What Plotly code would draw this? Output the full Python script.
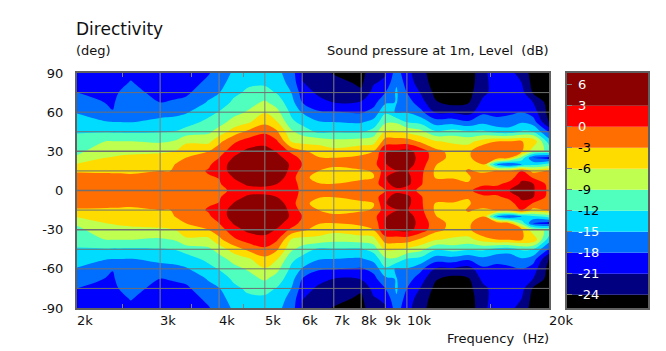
import numpy as np
import plotly.graph_objects as go

# angles (deg) of the rows in each column below
angles = [0, 5, 10, 15, 20, 25, 30, 37.5, 45, 52.5, 60, 67.5, 75, 82.5, 90]
freqs = [2000, 2300, 2380, 2450, 2600, 3000, 3150, 3250, 3400, 3800, 4000, 4300, 4600, 5000, 5300, 5700, 6000, 6500, 7000,
         8000, 8500, 9000, 9500, 10000, 10700, 11500, 12500, 13500, 14500, 15500, 16500, 17500, 18500, 20000]
upper_columns = [
    [-1.2, -1.5, -2, -3.3, -5.7, -8.5, -9.7, -11, -12.2, -13.8, -15.2, -16.6, -18, -19, -20],
    [-1.2, -1.5, -2.2, -3.4, -4.7, -6, -7.2, -8.9, -12.3, -14.9, -16.5, -18.1, -19, -19.5, -20],
    [-1.1, -1.4, -2.3, -3.4, -4.6, -5.8, -7, -8.9, -12.4, -15, -17.8, -18.6, -19, -19.5, -20],
    [-1.1, -1.4, -2.3, -3.4, -4.6, -5.6, -6.8, -8.9, -12.4, -15, -16, -17, -18, -18.8, -19.3],
    [-1, -1.3, -2.4, -3.5, -4.5, -5.4, -6.6, -8.9, -12.5, -15.1, -15.8, -16.4, -17, -17.8, -18.7],
    [-1, -1.3, -2, -3, -4, -5, -6.4, -9.4, -12.2, -14.3, -16, -18, -19, -19.8, -20.3],
    [-1, -1.3, -2, -3, -3.8, -4.9, -6.2, -9, -12, -14.2, -15.8, -17.8, -18.9, -19.7, -20.2],
    [-1, -1.2, -1.7, -2, -2.7, -4.4, -5.8, -8.5, -11.8, -14, -15.7, -17.6, -18.8, -19.6, -20.2],
    [-1, -1.2, -1.5, -1.8, -2.3, -3, -4.4, -6.5, -10.8, -13.4, -15.3, -17.2, -18.6, -19.4, -20],
    [-0.9, -0.7, -0.3, 0.3, -0.5, -1.7, -3, -6.8, -9.6, -11.2, -13, -14.7, -16, -17.3, -18.2],
    [-0.6, -0.3, 0.1, 1.5, 1.5, 0, -1.4, -3.7, -7.8, -10.2, -11.8, -13.7, -15.1, -16, -16.8],
    [0.5, 2, 3.2, 4.2, 4.2, 3.3, 1.8, -0.5, -4.5, -7.9, -10, -11.4, -12.7, -13.8, -14.5],
    [2, 3.4, 4.5, 5.5, 5.6, 5, 3.7, 1.3, -2.4, -6.5, -8.7, -10.2, -11.5, -12.5, -13.5],
    [2.2, 3.5, 5, 6, 6, 5.5, 4.2, 2, -0.5, -3.9, -6.2, -8.5, -11, -12.5, -13],
    [1.5, 3, 4.5, 5, 4.8, 4, 2.8, 0.5, -2.5, -5.8, -8, -10.3, -12.2, -13.5, -14.2],
    [0.2, 0.6, 1.5, 2.2, 2.6, 1.6, -0.8, -6.3, -8.5, -11.3, -12.8, -13.9, -15.1, -16, -16.5],
    [-0.1, -0.5, -2.5, -1.2, 0, -1, -2.4, -7, -10.3, -13, -15.2, -18, -19.2, -20.8, -21.5],
    [-1.7, -2.9, -3.6, -3, -2.5, -2.8, -4.2, -7, -12.6, -14.8, -17.7, -19.8, -21.7, -22.5, -23],
    [-2, -2.9, -5, -3.3, -2.8, -3, -5, -8, -12.3, -15, -17.8, -21, -22, -23, -24.2],
    [-1.5, -2.5, -3.3, -3.2, -2.3, -2.5, -3.8, -7.5, -12.4, -15.3, -18.3, -20.7, -23.5, -24.5, -25],
    [-1, -1.5, -3.1, -2.9, -1, -2, -3, -7.2, -10.7, -14, -17, -19, -20, -21.3, -22],
    [0, 2, 2.8, 1.8, 2.7, 3.2, 2.8, -1.4, -5.7, -9.6, -12.5, -15.5, -18, -20.3, -21.3],
    [2, 4.5, 4.5, 2.8, 5, 5, 3.5, -1.5, -5.7, -9.5, -15.5, -14.9, -14.6, -15.3, -16.5],
    [1, 4, 4, 3.3, 4.5, 5, 4, -1.4, -6.6, -12.2, -15.2, -16.5, -18, -19.3, -20],
    [-0.5, 0.2, 0.5, 0.8, 1.5, 1.8, 1.8, -3.5, -8, -13, -17.2, -19.7, -21.2, -22.5, -23],
    [-1.5, -1.8, -3.2, -3.5, -2.8, -1.5, -2, -5.7, -11.6, -16.5, -21.3, -23.7, -24.8, -25.3, -25.6],
    [-2, -2.5, -3.1, -4, -5.5, -4, -4, -6.5, -10.8, -16.2, -21.5, -25, -25.5, -25.7, -25.8],
    [-0.2, -2.9, -3.2, -2.8, -3.5, -3.6, -3.7, -7, -11.6, -17.5, -22.3, -24.2, -25, -25.5, -25.7],
    [0.5, -0.2, -2, -3.4, -3, -0.7, 0, -4.5, -11.5, -15.8, -18.6, -20.2, -21.7, -22, -22],
    [1.5, -0.6, -2, -2.9, -15, -1, -0.5, -3, -13, -17, -19, -19.5, -19.8, -19.5, -18.8],
    [3, 1, -1.5, -2.5, -18, -3, -0.7, -2.8, -13.5, -16.8, -18.5, -20.5, -19.5, -20, -20.5],
    [3.6, 3.6, 2.3, 0.4, -15, -10, -2.5, -2.9, -11.6, -15.3, -18, -19.2, -20, -21, -21.7],
    [3.4, 3.2, -0.3, -4, -13, -18, -8, -3.5, -12, -16.5, -19.5, -21, -24.3, -25, -25.5],
    [-0.7, -1, -1.7, -2.6, -11, -19.5, -9.5, -13.5, -18.3, -24.3, -25, -25.3, -25.5, -25.6, -25.7],
]

level_bottoms = [-27, -24, -21, -18, -15, -12, -9, -6, -3, 0, 3]
level_tops = [-24, -21, -18, -15, -12, -9, -6, -3, 0, 3, 9]
level_colors = ["#000000", "#000080", "#0000ff", "#006eff", "#00dcff", "#50ffbe",
                "#beff50", "#ffdc00", "#ff6e00", "#ff0000", "#8b0000"]
bar_labels = [6, 3, 0, -3, -6, -9, -12, -15, -18, -21, -24]
bar_label_colors = ["white", "white", "white", "black", "black", "black", "black",
                    "white", "white", "white", "white"]
y_ticks = [-90, -60, -30, 0, 30, 60, 90]
y_tick_text = ["-90", "-60", "-30", "0", "30", "60", "90"]
y_grid = [-75, -60, -45, -30, -15, 0, 15, 30, 45, 60, 75]
x_grid = [3000, 4000, 5000, 6000, 7000, 8000, 9000, 10000]
x_label_vals = [2000, 3000, 4000, 5000, 6000, 7000, 8000, 9000, 10000, 20000]
x_label_text = ["2k", "3k", "4k", "5k", "6k", "7k", "8k", "9k", "10k", "20k"]
x_minor = [2500, 3500, 4500, 15000]

W, H = 658, 343
OFF = 8  # page margin
def px(v):
    return (v - OFF) / W
def py(v):
    return 1 - (v - OFF) / H

FONT = "DejaVu Sans"
GREY = "#808080"
FRAME = "#606060"

upper = np.array(upper_columns).T
full = np.vstack([upper[::-1][:-1], upper])
full_angles = [-a for a in angles[::-1][:-1]] + angles

n = len(level_colors)
scale = []
for i, c in enumerate(level_colors):
    scale += [[i / n, c], [(i + 1) / n, c]]

fig = go.Figure()
fig.add_trace(go.Contour(
    x=freqs, y=full_angles, z=full, colorscale=scale, zmin=-27, zmax=6,
    autocontour=False, contours=dict(start=-24, end=3, size=3, coloring="fill"),
    line=dict(width=0), showscale=False, hoverinfo="skip", xaxis="x", yaxis="y"))
for b, t, c in zip(level_bottoms, level_tops, level_colors):
    fig.add_trace(go.Bar(x=[0], y=[t - b], base=[b], width=1, marker=dict(color=c, line=dict(width=0)),
                         showlegend=False, hoverinfo="skip", xaxis="x2", yaxis="y2"))

shapes = []
for v in x_grid:
    shapes.append(dict(type="line", xref="x", yref="paper", x0=v, x1=v,
                       y0=py(308), y1=py(73), line=dict(color=GREY, width=1)))
for v in y_grid:
    shapes.append(dict(type="line", xref="paper", yref="y", x0=px(77), x1=px(549),
                       y0=v, y1=v, line=dict(color="#707070", width=1.5 if v == 0 or abs(v) == 30 else 1)))

ann = []
def text(x, y, s, size=13, anchor="left", color="#111", xref="paper", yref="paper"):
    ann.append(dict(x=x, y=y, text=s, xref=xref, yref=yref, showarrow=False, xanchor=anchor,
                    yanchor="middle", font=dict(family=FONT, size=size, color=color),
                    borderpad=0, borderwidth=0))

text(px(76), py(29), "Directivity", size=17)
text(px(76), py(50), "(deg)")
text(px(549), py(50), "Sound pressure at 1m, Level&nbsp;&nbsp;(dB)", anchor="right")
text(px(549), py(338), "Frequency&nbsp;&nbsp;(Hz)", anchor="right")
for v, s in zip(x_label_vals, x_label_text):
    ann.append(dict(x=np.log10(v), y=py(320), text=s, xref="x", yref="paper", showarrow=False,
                    xanchor="left", yanchor="middle", xshift=-2, font=dict(family=FONT, size=13, color="#111")))
for v, c in zip(bar_labels, bar_label_colors):
    text(px(578), v, str(v), color=c, yref="y2")

fig.update_layout(
    width=W, height=H, margin=dict(l=0, r=0, t=0, b=0, autoexpand=False), autosize=False,
    paper_bgcolor="white", plot_bgcolor="white", showlegend=False, barmode="overlay",
    font=dict(family=FONT, size=13, color="#111"), shapes=shapes, annotations=ann,
    xaxis=dict(domain=[px(77), px(549)], type="log", range=[np.log10(2000), np.log10(20000)],
               tickvals=x_minor, ticks="inside", ticklen=4, tickcolor=GREY, showticklabels=False,
               showgrid=False, zeroline=False, showline=True, mirror="ticks", linecolor=FRAME,
               linewidth=2, layer="above traces"),
    yaxis=dict(domain=[py(308), py(73)], range=[-90, 90], tickvals=y_ticks, ticktext=y_tick_text, ticks="",
               showgrid=False, zeroline=False, showline=True, mirror=True, linecolor=FRAME,
               linewidth=2, layer="above traces", ticklabelstandoff=9),
    xaxis2=dict(domain=[px(567), px(648)], range=[-0.5, 0.5], showticklabels=False, ticks="",
                showgrid=False, zeroline=False, showline=True, mirror=True, linecolor=FRAME,
                linewidth=2, anchor="y2", layer="above traces"),
    yaxis2=dict(domain=[py(308), py(73)], range=[-25.9, 7.7], tickvals=bar_labels, ticks="inside",
                ticklen=5, tickcolor=GREY, showticklabels=False, showgrid=False, zeroline=False,
                showline=True, mirror=True, linecolor=FRAME, linewidth=2, anchor="x2", layer="above traces"),
)
fig.write_html("out.html")
